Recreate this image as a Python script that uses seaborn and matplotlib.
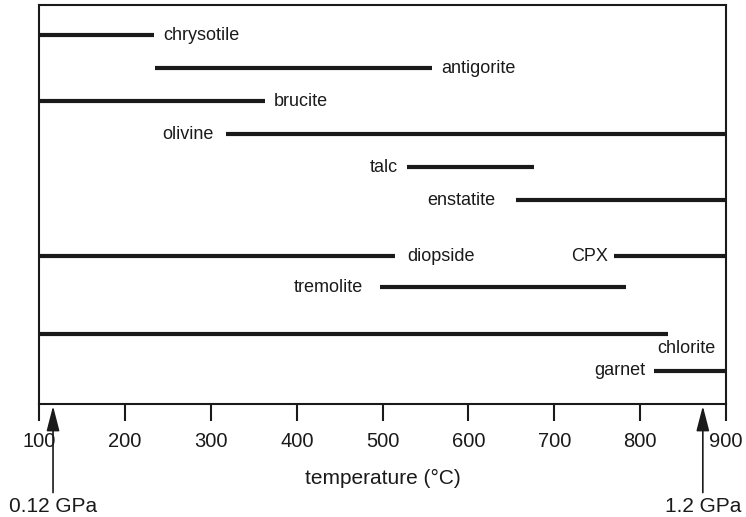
import matplotlib
matplotlib.use('Agg')
import matplotlib.pyplot as plt
import matplotlib.transforms as mtransforms
import pandas as pd
import seaborn as sns

sns.set_theme(style='white')
plt.rcParams['font.family'] = ['Liberation Sans', 'DejaVu Sans']

# stability ranges of the phases (temperature, deg C)
minerals = ['chrysotile', 'antigorite', 'brucite', 'olivine', 'talc', 'enstatite',
            'diopside', 'CPX', 'tremolite', 'chlorite', 'garnet']
t_start = [100, 235, 100, 318, 528, 655, 100, 769, 497, 100, 816]
t_end = [234, 558, 363, 900, 676, 900, 514, 900, 784, 832, 900]
lane = [1, 2, 3, 4, 5, 6, 7.7, 7.7, 8.64, 10.06, 11.18]
label_side = ['right', 'right', 'right', 'left', 'left', 'left',
              'right', 'left', 'left', 'below', 'left']

x_ticks = [100, 200, 300, 400, 500, 600, 700, 800, 900]
pressure_temp = [116, 873]
pressure_labels = ['0.12 GPa', '1.2 GPa']

ink = '#1a1a1a'

rows = []
for m, a, b, l in zip(minerals, t_start, t_end, lane):
    rows.append({'mineral': m, 'temp': a, 'lane': l})
    rows.append({'mineral': m, 'temp': b, 'lane': l})
df = pd.DataFrame(rows)

fig = plt.figure(figsize=(7.46, 5.17), dpi=100)
ax = fig.add_axes([39.3 / 746, 1 - 404 / 517, 686.7 / 746, 399 / 517])

sns.lineplot(data=df, x='temp', y='lane', units='mineral', estimator=None,
             color=ink, lw=3, solid_capstyle='butt', ax=ax)

# label gaps in pixels
gap = {'olivine': 13, 'enstatite': 20, 'tremolite': 17, 'diopside': 13, 'CPX': 6}
for m, a, b, l, side in zip(minerals, t_start, t_end, lane, label_side):
    g = gap.get(m, 9)
    if side == 'right':
        ax.annotate(m, xy=(b, l), xytext=(g, 0), textcoords='offset pixels',
                    ha='left', va='center', fontsize=13, color=ink)
    elif side == 'left':
        ax.annotate(m, xy=(a, l), xytext=(-g, 0), textcoords='offset pixels',
                    ha='right', va='center', fontsize=13, color=ink)
    else:
        ax.annotate(m, xy=(1, l), xycoords=('axes fraction', 'data'),
                    xytext=(-11, -14), textcoords='offset pixels',
                    ha='right', va='center', fontsize=13, color=ink)

ax.set_xlim(100, 900)
ax.set_ylim(12.18, 0.09)
ax.set_xticks(x_ticks)
ax.set_yticks([])
ax.set_ylabel('')
ax.set_xlabel('temperature (°C)', fontsize=15, color=ink, labelpad=13)
ax.tick_params(axis='x', direction='out', length=12, width=1.5, color=ink,
               labelsize=14.5, labelcolor=ink, pad=8, bottom=True)
for s in ax.spines.values():
    s.set_visible(True)
    s.set_color(ink)
    s.set_linewidth(1.5)

# pressure arrows below the axis
trans = mtransforms.blended_transform_factory(ax.transData, ax.transAxes)
for t, lab in zip(pressure_temp, pressure_labels):
    ax.annotate('', xy=(t, -0.005), xycoords=trans, xytext=(t, -0.222),
                textcoords=trans, annotation_clip=False,
                arrowprops=dict(arrowstyle='-|>,head_length=0.85,head_width=0.22',
                                color=ink, lw=1.2, shrinkA=0, shrinkB=0,
                                mutation_scale=18))
    ax.text(t, -0.258, lab, transform=trans, ha='center', va='center',
            fontsize=15, color=ink, clip_on=False)

fig.savefig('out.png', dpi=100)
